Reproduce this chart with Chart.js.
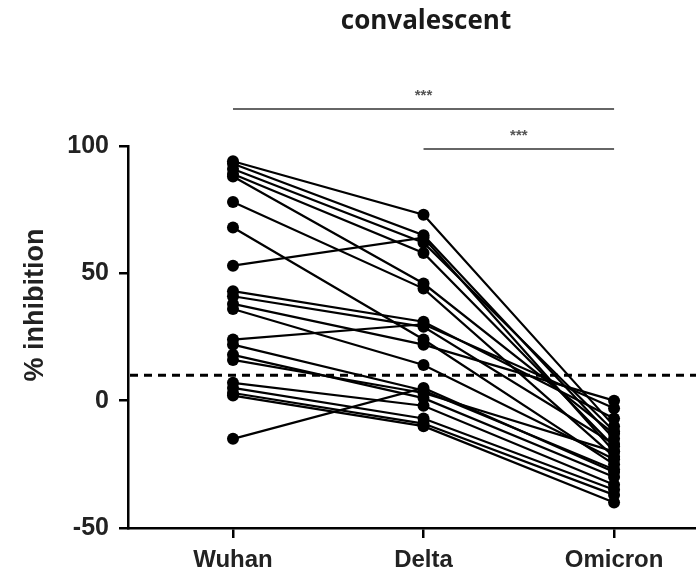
<!DOCTYPE html>
<html>
<head>
<meta charset="utf-8">
<script src="https://cdn.jsdelivr.net/npm/chart.js@4.4.1/dist/chart.umd.min.js"></script>
<style>
html, body { margin: 0; padding: 0; background: #fff; }
#contenedor { width: 696px; height: 578px; }
</style>
</head>
<body>
<div id="contenedor"><canvas id="grafico"></canvas></div>
<script>
// Datos (un valor por sujeto, emparejados por índice)
const categorias = ['Wuhan', 'Delta', 'Omicron'];
const wuhan   = [94, 93, 91, 89, 88, 78, 68, 53, 43, 41, 38, 36, 24, 22, 18, 16, 7, 5, 3, 2, -15];
const delta   = [73, 65, 62, 58, 46, 44, 24, 64, 31, 29, 22, 14, 30, 4, 1, 3, -2, -7, -9, -10, 5];
const omicron = [-10, -15, -12, -18, -13, -22, -25, -20, -7, -17, 0, -23, -3, -27, -30, -20, -33, -35, -37, -40, -28];
const ticksY = [-50, 0, 50, 100];
const umbral = 10;
const titulo = 'convalescent';
const etiquetaY = '% inhibition';
const significancia = [
    { desde: 0, hasta: 2, texto: '***' },
    { desde: 1, hasta: 2, texto: '***' }
];

const datasets = wuhan.map((w, i) => ({
    data: [
        { x: 0, y: w },
        { x: 1, y: delta[i] },
        { x: 2, y: omicron[i] }
    ],
    borderColor: '#000',
    borderWidth: 2.2,
    pointRadius: 6,
    pointBackgroundColor: '#000',
    pointBorderColor: '#000',
    pointBorderWidth: 0,
    clip: false
}));

// Título, línea de corte y barras de significancia
const extras = {
    id: 'extras',
    afterDatasetsDraw(chart) {
        const ctx = chart.ctx;
        const xs = chart.scales.x;
        const ys = chart.scales.y;
        const area = chart.chartArea;
        ctx.save();

        // línea discontinua
        const yu = ys.getPixelForValue(umbral);
        ctx.strokeStyle = '#000';
        ctx.lineWidth = 3;
        ctx.setLineDash([8, 6]);
        ctx.beginPath();
        ctx.moveTo(area.left + 2, yu);
        ctx.lineTo(chart.width, yu);
        ctx.stroke();
        ctx.setLineDash([]);

        // título
        ctx.fillStyle = '#1a1a1a';
        ctx.font = 'bold 26px "Open Sans"';
        ctx.textAlign = 'center';
        ctx.textBaseline = 'middle';
        ctx.fillText(titulo, 426, 22);

        // barras de significancia
        const alturas = [109, 149];
        significancia.forEach((s, k) => {
            const x1 = xs.getPixelForValue(s.desde);
            const x2 = xs.getPixelForValue(s.hasta);
            const y = alturas[k];
            ctx.strokeStyle = '#333';
            ctx.lineWidth = 1.6;
            ctx.beginPath();
            ctx.moveTo(x1, y);
            ctx.lineTo(x2, y);
            ctx.stroke();
            ctx.fillStyle = '#555';
            ctx.font = 'bold 15px "Liberation Sans"';
            ctx.fillText(s.texto, (x1 + x2) / 2, y - 13);
        });

        // etiqueta del eje Y
        ctx.translate(36, 305);
        ctx.rotate(-Math.PI / 2);
        ctx.fillStyle = '#222';
        ctx.font = 'bold 27px "Liberation Sans"';
        ctx.fillText(etiquetaY, 0, 0);
        ctx.restore();
    }
};

const ctx = document.getElementById('grafico').getContext('2d');
new Chart(ctx, {
    type: 'line',
    data: { datasets: datasets },
    options: {
        responsive: true,
        maintainAspectRatio: false,
        animation: false,
        layout: { autoPadding: false, padding: { top: 146, right: 0, bottom: 0, left: 0 } },
        plugins: {
            legend: { display: false },
            tooltip: { enabled: false }
        },
        scales: {
            x: {
                type: 'linear',
                min: -0.551,
                max: 2.43,
                afterBuildTicks: (scale) => {
                    scale.ticks = categorias.map((c, i) => ({ value: i }));
                },
                afterFit: (scale) => { scale.height = 50; },
                ticks: {
                    callback: (v) => categorias[v],
                    color: '#222',
                    font: { family: 'Liberation Sans', size: 24, weight: 'bold' },
                    padding: 8,
                    maxRotation: 0
                },
                grid: {
                    drawOnChartArea: false,
                    drawTicks: true,
                    tickLength: 10,
                    color: '#000',
                    lineWidth: 2.5
                },
                border: { display: true, color: '#000', width: 2.5 }
            },
            y: {
                min: -50,
                max: 100,
                afterBuildTicks: (scale) => {
                    scale.ticks = ticksY.map(v => ({ value: v }));
                },
                afterFit: (scale) => { scale.width = 128; },
                ticks: {
                    color: '#222',
                    font: { family: 'Liberation Sans', size: 25, weight: 'bold' },
                    padding: 10
                },
                grid: {
                    drawOnChartArea: false,
                    drawTicks: true,
                    tickLength: 9,
                    color: '#000',
                    lineWidth: 2.5
                },
                border: { display: true, color: '#000', width: 2.5 }
            }
        }
    },
    plugins: [extras]
});
</script>
</body>
</html>
